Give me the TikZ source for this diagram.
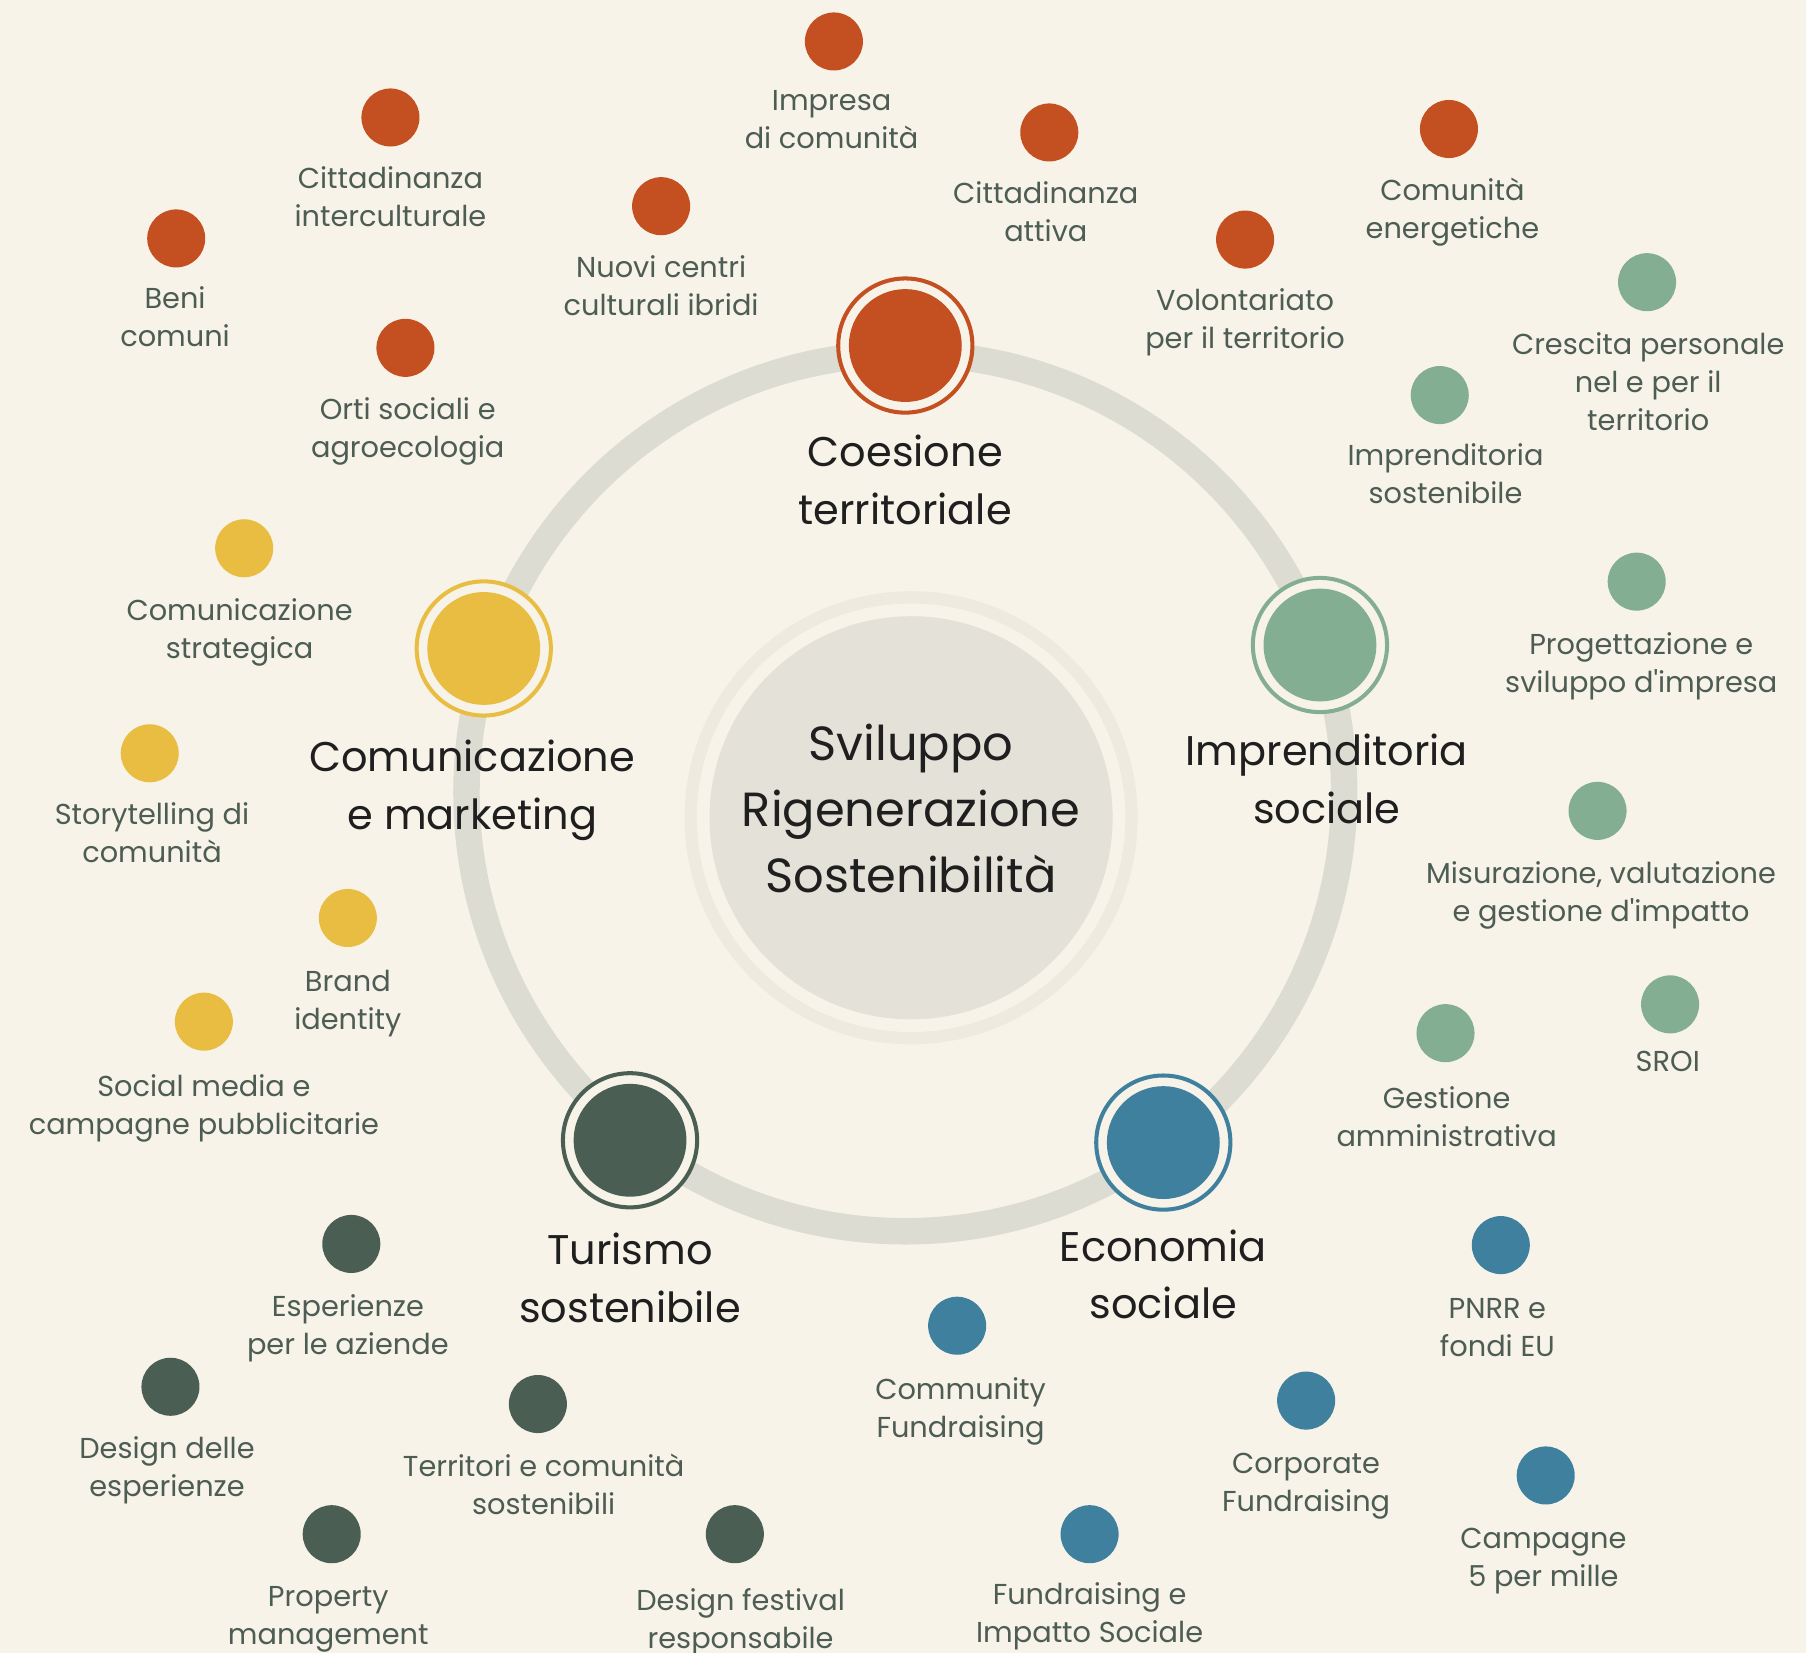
\documentclass[tikz,border=0pt]{standalone}
\usepackage{fontspec}
\setmainfont{Poppins}[Ligatures=TeXOff]
\definecolor{bg}{HTML}{F7F3E9}
\definecolor{ringc}{HTML}{DCDCD2}
\definecolor{outc}{HTML}{EDEADF}
\definecolor{innc}{HTML}{E3E1D8}
\definecolor{corc}{HTML}{C44F20}
\definecolor{grnc}{HTML}{83AE92}
\definecolor{yelc}{HTML}{E9BD42}
\definecolor{drkc}{HTML}{4B5E53}
\definecolor{bluc}{HTML}{3F809F}
\definecolor{lblc}{HTML}{4D5D53}
\definecolor{bigc}{HTML}{1F1F1F}
\tikzset{
  dot/.style={circle, fill=#1, minimum size=50.4pt, inner sep=0pt},
  hub/.style={circle, draw=#1, line width=3.5pt, fill=bg, minimum size=116.5pt, inner sep=0pt,
    path picture={\fill[#1] (path picture bounding box.center) circle[radius=49pt];}},
  lbl/.style={anchor=base, align=center, inner sep=0pt, text=lblc, font=\fontsize{25}{33}\selectfont},
  biglbl/.style={anchor=base, align=center, inner sep=0pt, text=bigc, font=\fontsize{36}{50}\selectfont},
}
\begin{document}
\begin{tikzpicture}[x=1pt,y=-1pt]
\fill[bg] (0,0) rectangle (1568,1435);
\useasboundingbox (0,0) rectangle (1568,1435);
% big ring
\draw[ringc, line width=23pt] (786,688) circle[radius=381pt];
% centre
\fill[outc] (791,710) circle[radius=196.7pt];
\fill[bg] (791,710) circle[radius=186pt];
\node[circle, fill=innc, minimum size=350pt, inner sep=0pt] (core) at (791,710) {};
\node[anchor=base, align=center, inner sep=0pt, text=bigc, font=\fontsize{41.6}{57.5}\selectfont] (coretxt) at (791,775) {Sviluppo\\Rigenerazione\\Sostenibilità};
% hubs
\node[hub=corc] (coes) at (786,300) {};
\node[hub=grnc] (impr) at (1146,560) {};
\node[hub=yelc] (comu) at (420,563) {};
\node[hub=drkc] (turi) at (547,990) {};
\node[hub=bluc] (econ) at (1010,992) {};
\node[biglbl] (coesl) at (786,455) {Coesione\\territoriale};
\node[biglbl] (imprl) at (1152,715) {Imprenditoria\\sociale};
\node[biglbl] (comul) at (410,720) {Comunicazione\\e marketing};
\node[biglbl] (turil) at (547,1148) {Turismo\\sostenibile};
\node[biglbl] (econl) at (1010,1145) {Economia\\sociale};
% coesione dots
\node[dot=corc] (d1) at (724,36) {};
\node[lbl] (l1) at (722,129) {Impresa\\di comunità};
\node[dot=corc] (d2) at (339,102) {};
\node[lbl] (l2) at (339,197) {Cittadinanza\\interculturale};
\node[dot=corc] (d3) at (574,179) {};
\node[lbl] (l3) at (574,274) {Nuovi centri\\culturali ibridi};
\node[dot=corc] (d4) at (911,115) {};
\node[lbl] (l4) at (908,210) {Cittadinanza\\attiva};
\node[dot=corc] (d5) at (1258,112) {};
\node[lbl] (l5) at (1261,207) {Comunità\\energetiche};
\node[dot=corc] (d6) at (153,207) {};
\node[lbl] (l6) at (152,301) {Beni\\comuni};
\node[dot=corc] (d7) at (1081,208) {};
\node[lbl] (l7) at (1081,303) {Volontariato\\per il territorio};
\node[dot=corc] (d8) at (352,302) {};
\node[lbl] (l8) at (354,397) {Orti sociali e\\agroecologia};
% imprenditoria dots
\node[dot=grnc] (d9) at (1430,245) {};
\node[lbl] (l9) at (1431,374) {Crescita personale\\nel e per il\\territorio};
\node[dot=grnc] (d10) at (1250,343) {};
\node[lbl] (l10) at (1255,437) {Imprenditoria\\sostenibile};
\node[dot=grnc] (d11) at (1421,505) {};
\node[lbl] (l11) at (1425,601) {Progettazione e\\sviluppo d'impresa};
\node[dot=grnc] (d12) at (1387,704) {};
\node[lbl] (l12) at (1390,800) {Misurazione, valutazione\\e gestione d'impatto};
\node[dot=grnc] (d13) at (1450,872) {};
\node[lbl] (l13) at (1448,930) {SROI};
\node[dot=grnc] (d14) at (1255,897) {};
\node[lbl] (l14) at (1256,995) {Gestione\\amministrativa};
% comunicazione dots
\node[dot=yelc] (d15) at (212,476) {};
\node[lbl] (l15) at (208,572) {Comunicazione\\strategica};
\node[dot=yelc] (d16) at (130,654) {};
\node[lbl] (l16) at (132,749) {Storytelling di\\comunità};
\node[dot=yelc] (d17) at (302,797) {};
\node[lbl] (l17) at (302,894) {Brand\\identity};
\node[dot=yelc] (d18) at (177,887) {};
\node[lbl] (l18) at (177,985) {Social media e\\campagne pubblicitarie};
% turismo dots
\node[dot=drkc] (d19) at (305,1080) {};
\node[lbl] (l19) at (302,1176) {Esperienze\\per le aziende};
\node[dot=drkc] (d20) at (148,1204) {};
\node[lbl] (l20) at (145,1299) {Design delle\\esperienze};
\node[dot=drkc] (d21) at (467,1219) {};
\node[lbl] (l21) at (472,1315) {Territori e comunità\\sostenibili};
\node[dot=drkc] (d22) at (288,1332) {};
\node[lbl] (l22) at (285,1428) {Property\\management};
\node[dot=drkc] (d23) at (638,1332) {};
\node[lbl] (l23) at (643,1431) {Design festival\\responsabile};
% economia dots
\node[dot=bluc] (d24) at (831,1151) {};
\node[lbl] (l24) at (834,1248) {Community\\Fundraising};
\node[dot=bluc] (d25) at (1303,1081) {};
\node[lbl] (l25) at (1300,1178) {PNRR e\\fondi EU};
\node[dot=bluc] (d26) at (1134,1216) {};
\node[lbl] (l26) at (1134,1312) {Corporate\\Fundraising};
\node[dot=bluc] (d27) at (1342,1281) {};
\node[lbl] (l27) at (1340,1377) {Campagne\\5 per mille};
\node[dot=bluc] (d28) at (946,1332) {};
\node[lbl] (l28) at (946,1426) {Fundraising e\\Impatto Sociale};
\end{tikzpicture}
\end{document}
